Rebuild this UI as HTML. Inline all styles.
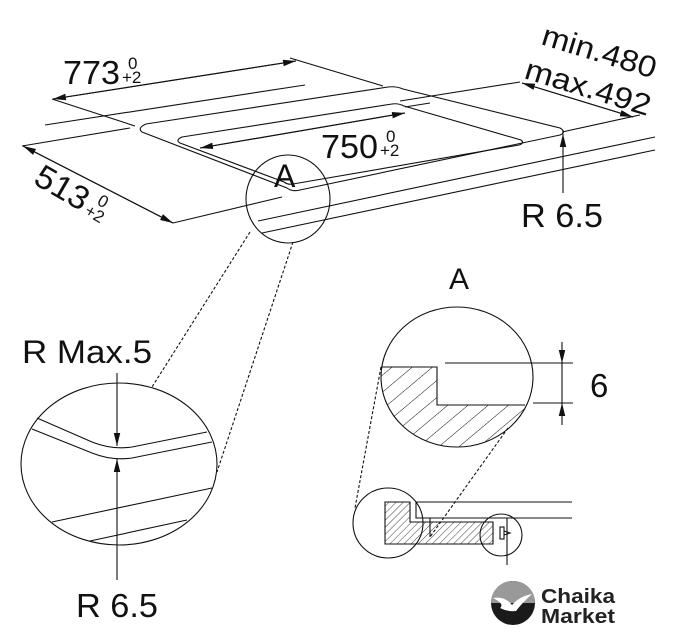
<!DOCTYPE html>
<html><head><style>html,body{margin:0;padding:0;background:#fff;}svg{display:block}</style></head>
<body>
<svg width="679" height="640" viewBox="0 0 679 640" xmlns="http://www.w3.org/2000/svg" font-family="Liberation Sans, Arial, sans-serif">
<defs>
<marker id="ah" viewBox="0 0 12 6" refX="12" refY="3" markerWidth="13" markerHeight="7" markerUnits="userSpaceOnUse" orient="auto">
<path d="M0,0 L12,3 L0,6 z" fill="#111"/></marker>
<pattern id="hatch" width="13" height="13" patternUnits="userSpaceOnUse" patternTransform="rotate(50)">
<line x1="0" y1="0" x2="0" y2="13" stroke="#111" stroke-width="1"/></pattern>
<pattern id="hatch2" width="5" height="5" patternUnits="userSpaceOnUse" patternTransform="rotate(45)">
<line x1="0" y1="0" x2="0" y2="5" stroke="#111" stroke-width="0.8"/></pattern>
<clipPath id="cA2"><ellipse cx="457" cy="377" rx="76" ry="70"/></clipPath>
</defs>
<g stroke="#111" stroke-width="1.1" fill="none">
<line x1="296" y1="61" x2="53" y2="99" marker-end="url(#ah)"/>
<line x1="53" y1="99" x2="296" y2="61" marker-end="url(#ah)"/>
<line x1="52" y1="99" x2="135" y2="126"/>
<line x1="290" y1="58" x2="383" y2="86"/>
<line x1="45" y1="125" x2="305" y2="85"/>
<line x1="22" y1="146" x2="130" y2="128"/>
<path d="M146,124 L388,87 Q396,86 403,89 L560,128 Q567,132 560,135 L300,190 Q292,192 287,188 L142,132 Q137,128 146,124 z"/>
<path d="M182,137 L392,104 Q398,103 404,106 L521,140 Q525,143 519,145 L293,184 Q288,185 284,182 L180,143 Q175,140 182,137 z"/>
<line x1="400" y1="101" x2="520" y2="82"/>
<line x1="430" y1="103" x2="405" y2="107"/>
<line x1="562" y1="132" x2="640" y2="115"/>
<line x1="522" y1="83" x2="633" y2="117" marker-end="url(#ah)"/>
<line x1="633" y1="117" x2="522" y2="83" marker-end="url(#ah)"/>
<line x1="200" y1="148" x2="405" y2="113" marker-end="url(#ah)"/>
<line x1="405" y1="113" x2="200" y2="148" marker-end="url(#ah)"/>
<line x1="23" y1="146" x2="173" y2="223" marker-end="url(#ah)"/>
<line x1="173" y1="223" x2="23" y2="146" marker-end="url(#ah)"/>
<line x1="173" y1="223" x2="282" y2="197"/>
<line x1="258" y1="221" x2="655" y2="137"/>
<line x1="262" y1="233" x2="655" y2="150"/>
<line x1="563" y1="193" x2="563" y2="134" marker-end="url(#ah)"/>
<ellipse cx="288" cy="199" rx="42" ry="44"/>
<line x1="250" y1="232" x2="152" y2="387" stroke-dasharray="3,2"/>
<line x1="293" y1="242" x2="217" y2="472" stroke-dasharray="3,2"/>
<ellipse cx="119" cy="464" rx="98" ry="81"/>
<path d="M37,418 L92,442 Q112,450 132,447 L207,432"/>
<path d="M32,429 L92,453 Q112,461 132,458 L212,442"/>
<line x1="52" y1="522" x2="212" y2="488"/>
<line x1="90" y1="541" x2="187" y2="520"/>
<line x1="117" y1="373" x2="117" y2="446" marker-end="url(#ah)"/>
<line x1="117" y1="580" x2="117" y2="459" marker-end="url(#ah)"/>
<ellipse cx="457" cy="377" rx="76" ry="70"/>
<path d="M381,367 L437,367 L437,405 L540,405 L540,460 L370,460 z" fill="url(#hatch)" stroke="none" clip-path="url(#cA2)"/>
<path d="M381,367 L437,367 L437,405 L525,405" />
<line x1="445" y1="363" x2="573" y2="363"/>
<line x1="533" y1="403" x2="573" y2="403"/>
<line x1="562" y1="342" x2="562" y2="363" marker-end="url(#ah)"/>
<line x1="562" y1="425" x2="562" y2="403" marker-end="url(#ah)"/>
<line x1="562" y1="363" x2="562" y2="403"/>
<line x1="381" y1="367" x2="355" y2="508" stroke-dasharray="3,2"/>
<line x1="508" y1="428" x2="430" y2="537" stroke-dasharray="3,2"/>
<circle cx="388" cy="523" r="35"/>
<path d="M385,502 L410,502 L410,522 L493,522 L493,544 L385,544 z" fill="url(#hatch2)"/>
<line x1="416" y1="502" x2="572" y2="502"/>
<path d="M416,502 L416,518 L572,518"/>
<line x1="430" y1="518" x2="430" y2="537"/>
<circle cx="501" cy="535" r="21"/>
<rect x="500" y="527" width="4" height="12"/>
<path d="M504,531 L510,533 L504,535"/>
<line x1="507" y1="518" x2="507" y2="565"/>
</g>
<g fill="#111">
<text x="63" y="84" font-size="33" textLength="57" lengthAdjust="spacingAndGlyphs">773</text>
<text x="128" y="69" font-size="17">0</text>
<text x="122" y="83" font-size="17">+2</text>
<text x="321" y="158" font-size="33" textLength="57" lengthAdjust="spacingAndGlyphs">750</text>
<text x="386" y="142" font-size="17">0</text>
<text x="380" y="156" font-size="17">+2</text>
<g transform="translate(32,183) rotate(30)">
<text x="0" y="0" font-size="33" textLength="57" lengthAdjust="spacingAndGlyphs">513</text>
<text x="66" y="-14" font-size="17">0</text>
<text x="60" y="1" font-size="17">+2</text>
</g>
<text x="540" y="44" font-size="30" transform="rotate(17 540 44)" textLength="118" lengthAdjust="spacingAndGlyphs">min.480</text>
<text x="523" y="78" font-size="30" transform="rotate(17 523 78)" textLength="130" lengthAdjust="spacingAndGlyphs">max.492</text>
<text x="521" y="227" font-size="33" textLength="82" lengthAdjust="spacingAndGlyphs">R 6.5</text>
<text x="274" y="187" font-size="32">A</text>
<text x="22" y="363" font-size="32" textLength="130" lengthAdjust="spacingAndGlyphs">R Max.5</text>
<text x="76" y="617" font-size="33" textLength="82" lengthAdjust="spacingAndGlyphs">R 6.5</text>
<text x="449" y="289" font-size="30">A</text>
<text x="590" y="397" font-size="33">6</text>
</g>
<circle cx="513" cy="603" r="22" fill="#1a1a1a"/>
<path d="M491,603 A22,22 0 0 1 535,603 z" fill="#999"/>
<path d="M493,598 Q505,596 512,605 Q520,596 532,594 Q522,603 516,611 Q508,612 500,608 Q505,604 493,598 z" fill="#fff"/>
<text x="541" y="603" font-size="20" font-weight="bold" fill="#222" textLength="74" lengthAdjust="spacingAndGlyphs">Chaika</text>
<text x="541" y="623" font-size="20" font-weight="bold" fill="#222" textLength="74" lengthAdjust="spacingAndGlyphs">Market</text>
</svg>
</body></html>
